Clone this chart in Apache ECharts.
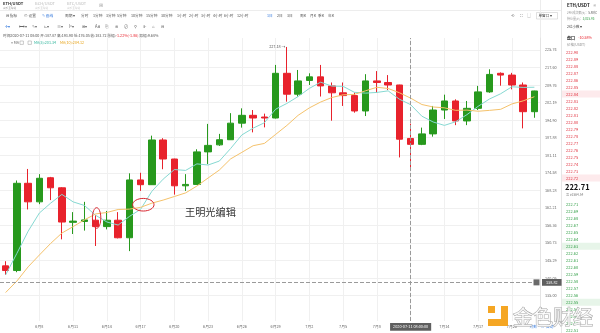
<!DOCTYPE html>
<html><head><meta charset="utf-8">
<script src="https://cdn.jsdelivr.net/npm/echarts@6.0.0/dist/echarts.min.js"></script>
<style>html,body{margin:0;padding:0;background:#fff}#c{width:600px;height:333px}</style>
</head><body><div id="c"></div>
<script>
// ---------- data ----------
const categories = ['6月5','6月6','6月7','6月8','6月9','6月10','6月11','6月12','6月13','6月14','6月15','6月16','6月17','6月18','6月19','6月20','6月21','6月22','6月23','6月24','6月25','6月26','6月27','6月28','6月29','6月30','7月1','7月2','7月3','7月4','7月5','7月6','7月7','7月8','7月9','7月10','7月11','7月12','7月13','7月14','7月15','7月16','7月17','7月18','7月19','7月20','7月21','7月22'];
const openPrices  = [143.7,142.3,170.8,164.3,172.8,169.2,157.4,157.7,158.1,156.0,158.1,152.4,172.0,170.3,187.0,179.7,169.9,170.4,182.4,185.1,187.1,193.7,196.9,196.2,195.8,215.0,205.8,211.8,213.4,209.4,206.4,205.2,198.7,211.6,210.9,209.8,187.6,185.3,189.4,199.1,202.9,194.6,199.8,206.8,215.0,214.2,209.8,198.4];
const closePrices = [142.3,170.8,164.3,172.6,169.2,157.5,157.8,158.2,156.0,158.1,152.4,172.0,170.3,187.0,179.7,169.9,170.4,182.4,184.9,187.1,193.7,196.9,195.8,195.8,215.0,205.8,211.6,213.4,209.4,206.4,205.2,198.7,211.6,210.9,209.8,187.3,185.3,189.4,199.1,202.9,194.6,199.8,206.8,214.5,214.2,209.8,198.4,207.2];
const lowPrices   = [141.0,141.8,161.7,163.5,164.9,151.9,153.6,154.7,149.8,155.1,152.2,148.2,168.1,170.2,175.9,166.8,168.1,170.3,177.8,184.7,187.0,191.9,190.0,192.0,195.6,202.6,204.8,209.8,204.8,194.7,200.8,198.0,196.6,206.4,207.6,180.3,176.1,185.0,188.3,195.4,192.9,192.9,199.1,206.4,209.5,207.9,191.6,195.9];
const highPrices  = [145.1,171.8,176.0,174.1,173.1,169.4,160.8,164.3,159.8,161.2,160.8,174.4,174.6,188.7,187.7,179.8,174.1,183.4,193.4,189.4,197.8,199.8,199.1,197.6,218.8,227.18,216.5,215.0,218.8,210.9,210.9,206.5,214.6,216.0,214.2,209.9,193.5,191.9,200.8,205.6,203.6,202.9,209.4,216.8,215.4,215.2,210.9,207.3];
const ma5  = [141.0,147.5,154.5,160.5,163.84,166.88,164.28,163.06,159.74,157.52,156.5,159.34,161.76,167.96,172.28,175.78,175.46,177.88,177.46,178.94,183.7,189.0,191.68,193.86,199.44,201.86,204.8,208.32,211.04,209.32,209.2,206.62,206.26,206.56,207.24,203.66,201.34,196.54,194.18,192.8,194.26,197.16,200.64,203.72,205.98,209.02,208.74,208.82];
const ma10 = [135.9,139.2,143.4,147.0,150.6,153.9,156.0,158.2,160.2,160.68,161.69,161.81,162.41,163.85,164.9,166.14,167.4,169.82,172.71,175.61,179.74,182.23,184.78,185.66,189.19,192.78,196.9,200.0,202.45,204.38,205.53,205.71,207.29,208.8,208.28,206.43,204.12,201.4,200.37,200.02,198.96,199.07,198.59,198.95,199.39,201.64,202.95,204.73];
const yTickLabels = ['225.74','217.60','209.76','202.19','194.90','187.88','181.11','174.58','168.28','162.21','156.36','150.73','145.29','140.05','135.00'];
const lastPrice = 222.71;
const crosshairPrice = 138.82;
const crosshairIndex = 36;
const crosshairTime = '2020-07-11 08:00:00';
const infoMain = '时间2020-07-11 08:00 开:187.87 高:193.90 低:176.05 收:183.72 涨幅:';
const infoChange = '-1.22%(-1.86)';
const infoAmp = ' 振幅:9.64%';
const maLegend = ['MA(5):201.34', 'MA(10):204.12'];
const askPrices = ['222.90','222.89','222.88','222.87','222.86','222.85','222.84','222.83','222.82','222.81','222.80','222.79','222.78','222.77','222.76','222.75','222.74','222.73','222.72'];
const bidPrices = ['222.71','222.69','222.68','222.67','222.65','222.64','222.63','222.62','222.61','222.60','222.59','222.58','222.57','222.56','222.55','222.54','222.53','222.52','222.51'];
const periodLabels = ['⊟ 指标','⊙ 设置','✎ 画线','周期 ▾','分时','1分钟','3分钟','5分钟','10分钟','15分钟','30分钟','1小时','2小时','3小时','4小时','6小时','12小时','1日','2日','3日','周K','月K','季K','年K'];
const toolIcons = ['✛▾','⟷▾','✎▾','⊾▾','≡▾','Iˣ▾','⊞▾','Aa','⎘','⊛','⊘','⚲','⊪','⌂','⊟'];
const tabLabels = ['ETH/USDT','BCH/USDT','BTC/USDT'];

// ---------- layout / style ----------
const FF = "'Noto Sans CJK SC','Noto Sans',sans-serif";
const periodX = [6,24,42,65,81,93,106,117,131,146,161,177,189,201,213,224,237,267,277,287,300,310,318,328];
const periodBlue = {2:true, 17:true};
const toolX = [5,19,32,44,57,69,82,95,105,115,124,134,143,152,161];
const UP = '#27991d', DOWN = '#e8222c';

const chart = echarts.init(document.getElementById('c'), null, {renderer:'canvas', width:600, height:333});
const candleData = categories.map((c,i)=>[openPrices[i], closePrices[i], lowPrices[i], highPrices[i]]);
const yTickValues = yTickLabels.map(Number);
const small = 3.8;

chart.setOption({
  animation:false,
  backgroundColor:'#fff',
  textStyle:{fontFamily:FF},
  tooltip:{show:false},
  grid:{left:0, right:60, top:38, bottom:12, containLabel:false, outerBoundsMode:'none'},
  xAxis:{
    type:'category', data:categories, boundaryGap:true,
    axisLine:{show:false}, axisTick:{show:false},
    axisLabel:{interval:(i)=> i%3===0 && i>0 && i!==crosshairIndex, fontSize:small, color:'#666', margin:4, fontFamily:FF},
    splitLine:{show:true, alignWithLabel:true, interval:(i)=> i%3===0 && i>0, lineStyle:{color:'#f0f0f0', width:1}},
    axisPointer:{show:true, type:'line', value:crosshairIndex, status:'show', snap:false, triggerTooltip:false,
      lineStyle:{type:'dashed', color:'#9a9a9a', width:1},
      label:{show:true, formatter:()=>crosshairTime, backgroundColor:'#5f5f5f', color:'#fff', fontSize:small, padding:[2,3], margin:2, borderRadius:0, fontFamily:FF}}
  },
  yAxis:{
    type:'log', logBase:10, position:'right', min:128.04, max:231.48, scale:true,
    axisLine:{show:true, lineStyle:{color:'#e3e3e3'}},
    axisTick:{show:false, customValues:yTickValues},
    axisLabel:{customValues:yTickValues, formatter:(v)=>Number(v).toFixed(2), fontSize:small, color:'#666', margin:5, fontFamily:FF},
    splitLine:{show:true, lineStyle:{color:'#f0f0f0'}},
    axisPointer:{show:true, type:'line', value:crosshairPrice, status:'show', triggerTooltip:false,
      lineStyle:{type:'dashed', color:'#9a9a9a', width:1},
      label:{show:true, formatter:()=>crosshairPrice.toFixed(2), backgroundColor:'#5f5f5f', color:'#fff', fontSize:small, padding:[1.5,4], margin:2, borderRadius:0, fontFamily:FF}}
  },
  series:[
    {type:'candlestick', data:candleData, barWidth:7,
      itemStyle:{color:UP, color0:DOWN, borderColor:UP, borderColor0:DOWN, borderWidth:1},
      markPoint:{symbol:'circle', symbolSize:1, itemStyle:{color:'rgba(0,0,0,0)'},
        label:{show:true, position:'left', distance:1, formatter:(p)=>Number(p.value).toFixed(2)+' →', fontSize:small, color:'#555', fontFamily:FF},
        data:[{type:'max', valueDim:'highest'}]},
      markLine:{symbol:'none', silent:true, lineStyle:{opacity:0},
        label:{show:true, position:'end', distance:2, formatter:()=>lastPrice.toFixed(2), backgroundColor:'#e8474f', color:'#fff', fontSize:small, padding:[1.5,3], fontFamily:FF},
        data:[{yAxis:lastPrice}]}
    },
    {type:'line', data:ma5, symbol:'none', showSymbol:false, lineStyle:{color:'#86d9d2', width:1}, z:3},
    {type:'line', data:ma10, symbol:'none', showSymbol:false, lineStyle:{color:'#f5c26b', width:1}, z:3}
  ]
});

// ---------- decorations ----------
function T(x, y, text, size, fill, extra){
  return {type:'text', x:x, y:y, silent:true, z:100,
    style:Object.assign({text:text, fontSize:size, fill:fill, fontFamily:FF, verticalAlign:'middle', align:'left'}, extra||{})};
}
const g = [];
// tabs
g.push({type:'line', silent:true, shape:{x1:0,y1:10.5,x2:561,y2:10.5}, style:{stroke:'#ededed', lineWidth:1}});
tabLabels.forEach((t,i)=>{
  const x = [3,35,67][i];
  g.push(T(x, 3.5, t, 4, i===0?'#333':'#bbb', {fontWeight:i===0?'bold':'normal'}));
  g.push(T(x, 8, '火币全球站', 2.6, i===0?'#999':'#ccc'));
});
g.push(T(99, 5, '⊞', 4.5, '#aaa'));
// period row
periodLabels.forEach((t,i)=> g.push(T(periodX[i], 15.7, t, 3.7, periodBlue[i]?'#3b7ddd':'#555')));
g.push(T(511, 15.7, '⟲', 4, '#777'));
g.push(T(520, 15.7, '⛶', 4, '#777'));
g.push(T(527, 15.7, '▢', 4, '#777'));
g.push({type:'rect', silent:true, shape:{x:536.5,y:12.5,width:21,height:6.5}, style:{fill:'none', stroke:'#ccc', lineWidth:0.6}});
g.push(T(538.5, 15.8, '单窗口 ▾', 3.6, '#444'));
// tool row
toolIcons.forEach((t,i)=> g.push(T(toolX[i], 26.7, t, 4.2, i===0?'#3b7ddd':'#666')));
// info row
g.push({type:'text', x:3, y:36, silent:true, z:100, style:{text:'{a|'+infoMain+'}{r|'+infoChange+'}{a|'+infoAmp+'}', verticalAlign:'middle', fontFamily:FF,
  rich:{a:{fill:'#555', fontSize:3.7, fontFamily:FF}, r:{fill:'#e8222c', fontSize:3.7, fontFamily:FF}}}});
// MA legend row
g.push(T(11, 42.7, '▿ MA', 3.7, '#666'));
g.push({type:'rect', silent:true, shape:{x:20,y:41,width:3.4,height:3.4}, style:{fill:'none', stroke:'#999', lineWidth:0.5}});
g.push({type:'rect', silent:true, shape:{x:28,y:41,width:3.4,height:3.4}, style:{fill:'none', stroke:'#999', lineWidth:0.5}});
g.push(T(34, 42.7, maLegend[0], 3.7, '#2fb59c'));
g.push(T(60, 42.7, maLegend[1], 3.7, '#e8a317'));

// right panel
g.push({type:'line', silent:true, shape:{x1:561.5,y1:0,x2:561.5,y2:333}, style:{stroke:'#e6e6e6', lineWidth:1}});
g.push({type:'line', silent:true, shape:{x1:540.5,y1:0,x2:540.5,y2:38}, style:{stroke:'#ececec', lineWidth:1}});
g.push(T(567, 5.7, 'ETH/USDT', 4.5, '#222', {fontWeight:'bold'}));
g.push(T(593, 5.7, '⊗', 3.5, '#999'));
g.push({type:'text', x:567, y:13.3, silent:true, z:100, style:{text:'{a|24H成交额(¥)：}{b|5.88亿}', verticalAlign:'middle', rich:{a:{fill:'#999',fontSize:3,fontFamily:FF}, b:{fill:'#555',fontSize:3,fontFamily:FF}}}});
g.push({type:'text', x:567, y:18.7, silent:true, z:100, style:{text:'{a|持仓量(¥)：}{b|3,015.93}', verticalAlign:'middle', rich:{a:{fill:'#999',fontSize:3,fontFamily:FF}, b:{fill:'#2f9e44',fontSize:3,fontFamily:FF}}}});
g.push(T(567, 26.7, '2位小数 ▾', 3.5, '#444'));
g.push({type:'text', x:567, y:38, silent:true, z:100, style:{text:'{a|盘口} {b|-10.58%}', verticalAlign:'middle', rich:{a:{fill:'#222',fontSize:4,fontWeight:'bold',fontFamily:FF}, b:{fill:'#e8222c',fontSize:3.6,fontFamily:FF}}}});
g.push(T(567, 45, '价格(USDT)', 3.5, '#888'));
[6,18].forEach(k=> g.push({type:'rect', silent:true, z:90, shape:{x:562,y:52+7*k-3.5,width:38,height:7}, style:{fill:'#fdeaec'}}));
[6,14].forEach(k=> g.push({type:'rect', silent:true, z:90, shape:{x:562,y:204.3+7*k-3.5,width:38,height:7}, style:{fill:'#e7f5e9'}}));
askPrices.forEach((p,k)=> g.push(T(566, 52+7*k, p, 4, '#e0303d')));
g.push(T(565, 187.3, lastPrice.toFixed(2), 7.5, '#111', {fontWeight:'bold'}));
g.push(T(566, 195, '≈ ¥1564.54', 3.2, '#777'));
bidPrices.forEach((p,k)=> g.push(T(566, 204.3+7*k, p, 4, '#2f9e44')));

// bottom-right scale buttons
g.push(T(529.5, 327, '对数', 3.7, '#3b7ddd'));
g.push(T(540.5, 327, '%', 3.7, '#3b7ddd'));
g.push(T(546, 327, '自动', 3.7, '#3b7ddd'));

// crosshair "+" button on the price axis
const pCross = chart.convertToPixel({gridIndex:0}, [crosshairIndex, crosshairPrice]);
g.push({type:'rect', silent:true, z:110, shape:{x:533.5,y:pCross[1]-3,width:6,height:6}, style:{fill:'#6a6a6a'}});
g.push(T(534.6, pCross[1], '+', 5, '#fff', {z:111}));

// editor annotations (anchored to data positions)
const e1 = chart.convertToPixel({gridIndex:0}, [8, 158.84]);
g.push({type:'ellipse', silent:true, z:105, shape:{cx:e1[0]+1, cy:e1[1], rx:4.2, ry:10.3}, style:{fill:'none', stroke:'#d9262f', lineWidth:1}});
const a12 = chart.convertToPixel({gridIndex:0}, [12, 163.31]);
const a13 = chart.convertToPixel({gridIndex:0}, [13, 163.31]);
g.push({type:'ellipse', silent:true, z:105, shape:{cx:a12[0]+0.24*(a13[0]-a12[0]), cy:a12[1], rx:10.7, ry:6.3}, style:{fill:'none', stroke:'#d9262f', lineWidth:1}});
g.push(T(185, 211.7, '王明光编辑', 10.2, '#333'));

// watermark
g.push({type:'rect', silent:true, z:120, shape:{x:488,y:306,width:7,height:7}, style:{fill:'#f5a623'}});
g.push({type:'rect', silent:true, z:120, shape:{x:501,y:306,width:7,height:20}, style:{fill:'#f5a623'}});
g.push({type:'rect', silent:true, z:120, shape:{x:488,y:319,width:20,height:7}, style:{fill:'#f5a623'}});
g.push({type:'text', x:513, y:317, silent:true, z:120, style:{text:'金色财经', fontSize:20, fontFamily:FF, fill:'rgba(255,255,255,0.85)', stroke:'#a5a5a5', lineWidth:1, verticalAlign:'middle'}});

chart.setOption({graphic:g});
</script>
</body></html>
